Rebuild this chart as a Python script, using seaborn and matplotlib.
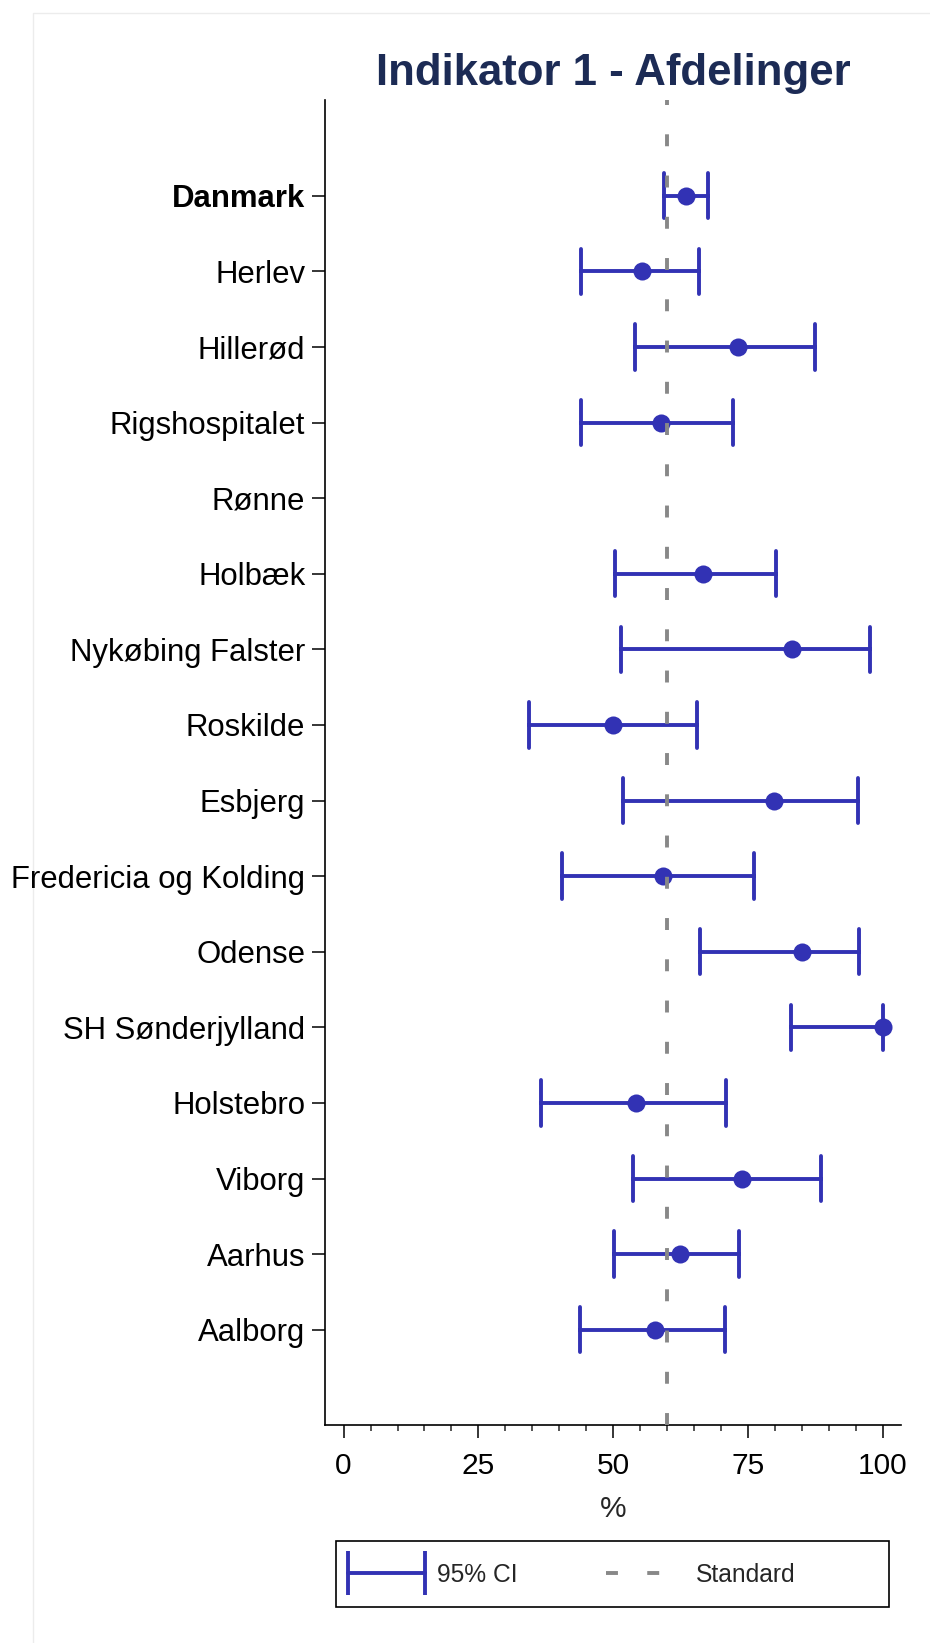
#!/usr/bin/env python3

import matplotlib

matplotlib.use("Agg")
import matplotlib.pylab as plt
import numpy as np
import pandas as pd
import seaborn as sns
from matplotlib.legend_handler import HandlerLine2D
from matplotlib.lines import Line2D
from matplotlib.patches import Rectangle
from matplotlib.ticker import MultipleLocator

sns.set_style("white")
plt.rcParams["font.family"] = ["Liberation Sans", "DejaVu Sans"]
plt.rcParams["lines.scale_dashes"] = False

# Indicator 1 per department: estimate with 95% confidence interval (percent)
departments = [
    "Danmark",
    "Herlev",
    "Hillerød",
    "Rigshospitalet",
    "Rønne",
    "Holbæk",
    "Nykøbing Falster",
    "Roskilde",
    "Esbjerg",
    "Fredericia og Kolding",
    "Odense",
    "SH Sønderjylland",
    "Holstebro",
    "Viborg",
    "Aarhus",
    "Aalborg",
]
estimate = [63.6, 55.3, 73.1, 58.8, np.nan, 66.6, 83.2, 49.9, 79.8, 59.3, 85.0, 100.0, 54.2, 73.9, 62.4, 57.7]
ci_low = [59.5, 44.0, 54.1, 44.0, np.nan, 50.4, 51.5, 34.3, 51.8, 40.6, 66.2, 83.0, 36.6, 53.6, 50.2, 43.9]
ci_high = [67.6, 66.0, 87.5, 72.3, np.nan, 80.2, 97.6, 65.6, 95.4, 76.2, 95.6, 100.0, 71.0, 88.5, 73.4, 70.7]
standard = 60
x_ticks = [0, 25, 50, 75, 100]

blue = "#3232b4"
grey = "#888888"
title_color = "#1c2b55"

# Long format: median of (low, est, high) gives the point, min/max the CI
df = pd.DataFrame(
    {"afdeling": departments, "low": ci_low, "est": estimate, "high": ci_high}
).melt(id_vars="afdeling", value_name="pct").dropna()

fig, ax = plt.subplots(figsize=(9.3, 16.43), dpi=100)
fig.subplots_adjust(left=325 / 930, right=901 / 930, bottom=1 - 1425 / 1643, top=1 - 100 / 1643)
ax.patch.set_alpha(0)

sns.pointplot(
    data=df,
    x="pct",
    y="afdeling",
    order=departments,
    orient="y",
    estimator="median",
    errorbar=("pi", 100),
    capsize=0.6,
    color=blue,
    linestyle="none",
    marker="o",
    markersize=13,
    markeredgewidth=0,
    err_kws={"linewidth": 2.8, "solid_capstyle": "round"},
    ax=ax,
)

# Standard line
ax.axvline(standard, color=grey, linewidth=2.8, linestyle=(0, (8.6, 21.1)), zorder=10)

ax.set_xlim(-3.45, 103.4)
ax.set_ylim(16.26, -1.266)
ax.set_xticks(x_ticks)
ax.xaxis.set_minor_locator(MultipleLocator(5))
ax.tick_params(axis="x", which="major", length=9.2, width=1.1, pad=10, labelsize=21.5, colors="black", bottom=True)
ax.tick_params(axis="x", which="minor", length=4.6, width=1.1, bottom=True)
ax.tick_params(axis="y", length=9.2, width=1.1, pad=5, labelsize=22.4, colors="black", left=True)
ax.set_xlabel("%", fontsize=21.5, labelpad=11)
ax.set_ylabel("")
ax.get_yticklabels()[0].set_fontweight("bold")

sns.despine(ax=ax)
for side in ["left", "bottom"]:
    ax.spines[side].set_color("black")
    ax.spines[side].set_linewidth(1.2)

fig.text(
    613.5 / 930, 1 - 85 / 1643, "Indikator 1 - Afdelinger",
    ha="center", va="baseline", fontsize=31.5, fontweight="bold", color=title_color,
)

# Legend
ci_handle = Line2D([], [], color=blue, linewidth=2.8, marker="|", markersize=31, markeredgewidth=2.8)
std_handle = Line2D([], [], color=grey, linewidth=2.8, linestyle=(0, (8.6, 21.1)))
fig.legend(
    [ci_handle, std_handle],
    ["95% CI", "Standard"],
    handler_map={ci_handle: HandlerLine2D(numpoints=2, marker_pad=0)},
    loc="center left",
    bbox_to_anchor=(348 / 930, 1 - 1575 / 1643),
    ncol=2,
    frameon=False,
    fontsize=17.7,
    handlelength=3.14,
    handletextpad=0.49,
    columnspacing=3.6,
    borderpad=0,
    borderaxespad=0,
)
fig.add_artist(Rectangle(
    (335.7 / 930, 1 - 1606.7 / 1643), (889.3 - 335.7) / 930, 66 / 1643,
    transform=fig.transFigure, fill=False, edgecolor="black", linewidth=1.2,
))

# faint outer frame, kept behind the axes and their labels
fig.add_artist(Rectangle(
    (33 / 930, -0.1), 1.0, 1.1 - 13 / 1643,
    transform=fig.transFigure, fill=False, edgecolor="#ececec", linewidth=1, zorder=-1,
))

plt.savefig("out.png", dpi=100)
